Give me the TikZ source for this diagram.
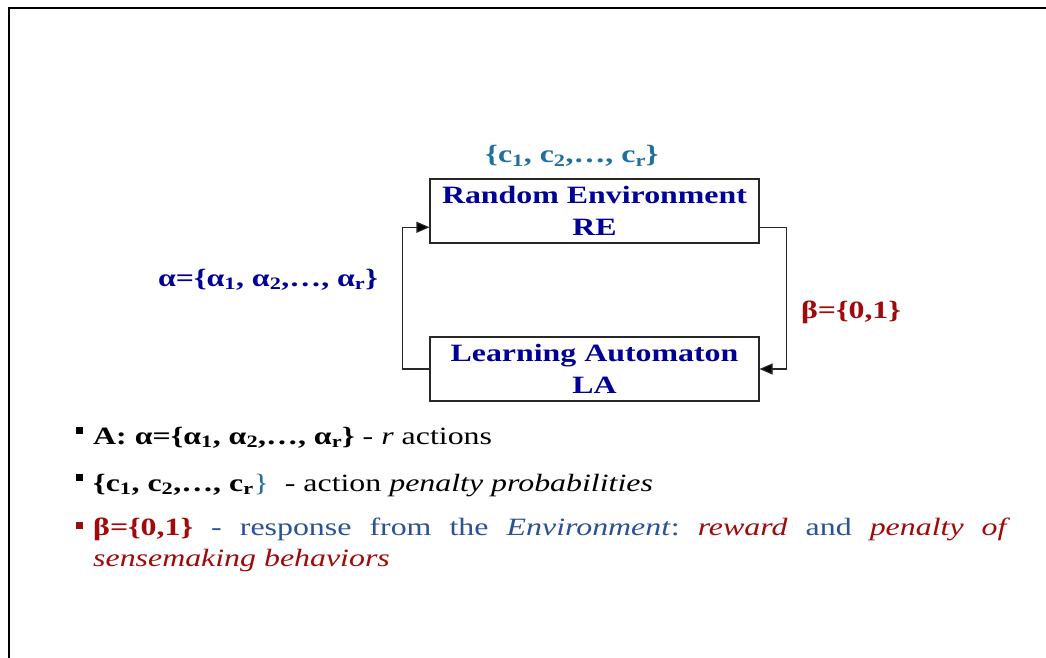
\documentclass[tikz,border=0pt]{standalone}
\usepackage{fontspec}
\setmainfont{Liberation Serif}[FakeStretch=1.28]
\usetikzlibrary{arrows.meta,calc}
\definecolor{navy}{RGB}{0,0,153}
\definecolor{tealc}{RGB}{31,112,158}
\definecolor{dred}{RGB}{160,10,10}
\definecolor{respblue}{RGB}{42,82,150}
\definecolor{linec}{RGB}{40,40,40}
\tikzset{
  box/.style={draw=linec, line width=1.1bp, minimum width=329bp, minimum height=64bp,
    inner sep=0pt, align=center, font=\fontsize{25}{31.5}\selectfont\bfseries, text=navy},
  conn/.style={draw=linec, line width=1.1bp, -{Triangle[length=13bp,width=11bp,fill=black]}},
  lbl/.style={inner sep=0pt, anchor=base, font=\fontsize{25}{31}\selectfont\bfseries},
  body/.style={inner sep=0pt, anchor=base west, font=\fontsize{25}{31}\selectfont\frenchspacing},
  bul/.style={fill=#1, draw=none},
}
\begin{document}
\begin{tikzpicture}[x=1bp,y=-1bp]
\useasboundingbox (0,0) rectangle (1046,658);
\fill[white] (0,0) rectangle (1046,658);
\draw[line width=2bp] (9,658) -- (9,8) -- (1046,8);

\node[box] (RE) at (594.5,211) {Random Environment\\RE};
\node[box] (LA) at (594.5,369) {Learning Automaton\\LA};

\draw[conn] (LA.west) -- ++(-27,0) |- ($(RE.south west)!0.25!(RE.north west)$);
\draw[conn] ($(RE.south east)!0.25!(RE.north east)$) -- ++(27,0) |- (LA.east);

\node[lbl, text=tealc] (clab) at (572,163) {\{c\textsubscript{1}, c\textsubscript{2},…, c\textsubscript{r}\}};
\node[lbl, text=navy] (alab) at (268,286) {α=\{α\textsubscript{1}, α\textsubscript{2},…, α\textsubscript{r}\}};
\node[lbl, text=dred] (blab) at (851,318) {β=\{0,1\}};

\path[bul=black] (75.5,426.5) rectangle (82.5,433.5);
\path[bul=black] (75.5,474) rectangle (82.5,481);
\path[bul=dred] (75.5,521.5) rectangle (82.5,528.5);

\node[body] (t1) at (93,444) {\textbf{A: α=\{α\textsubscript{1}, α\textsubscript{2},…, α\textsubscript{r}\}} - \textit{r} actions};
\node[body] (t2) at (93,491) {\textbf{\{c\textsubscript{1}, c\textsubscript{2},…, c\textsubscript{r}}\textcolor{tealc}{\}}\ \ - action \textit{penalty probabilities}};
\node[body, text width=917bp, align=justify] (t3) at (93,535.5) {\textcolor{dred}{\textbf{β=\{0,1\}}} \textcolor{respblue}{- response from the \textit{Environment}:} \textcolor{dred}{\textit{reward}} \textcolor{respblue}{and} \textcolor{dred}{\textit{penalty of}}\linebreak \textcolor{dred}{\textit{sensemaking behaviors}}};
\end{tikzpicture}
\end{document}
